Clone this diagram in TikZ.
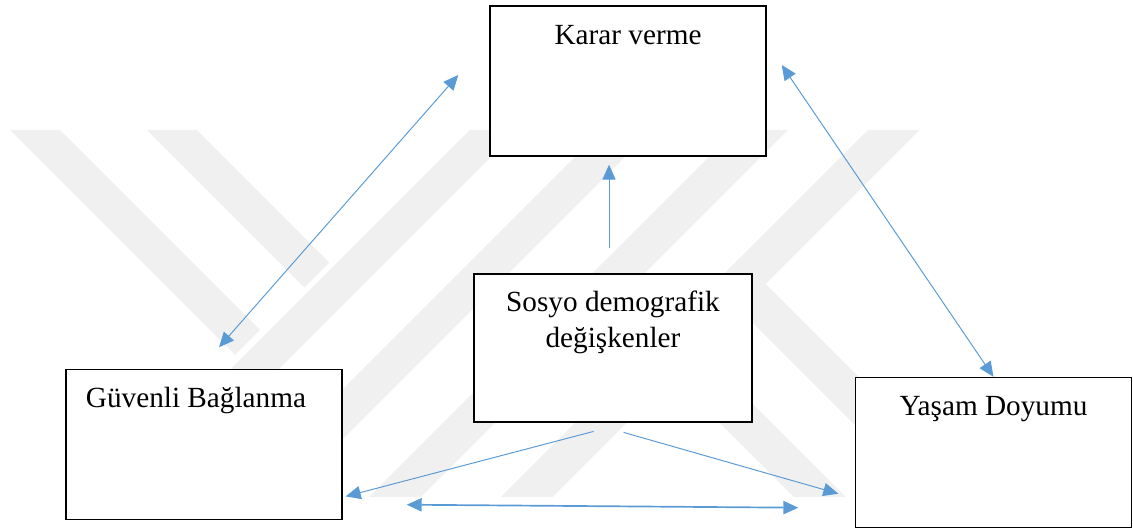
\documentclass[tikz,border=0pt]{standalone}
\usepackage{fontspec}
\setmainfont{Liberation Serif}
\usepackage{xcolor}
\usepackage{tikz}
\usetikzlibrary{shapes.geometric, arrows.meta, positioning}
\definecolor{arrowblue}{HTML}{5B9BD5}
\definecolor{markgray}{HTML}{F0F0F0}
\tikzstyle{box} = [rectangle, draw, fill=white, line width=1pt, minimum width=6.9cm, inner sep=0pt, text height=0.95cm, text depth=2.8cm, font=\fontsize{20.8pt}{25pt}\selectfont]
\tikzstyle{stripe} = [fill=markgray]
\tikzstyle{arrow} = [draw=arrowblue, line width=0.7pt, ->, >={Triangle[length=0.375cm, width=0.33cm]}]
\tikzstyle{biarrow} = [arrow, <->]

\begin{document}
\begin{tikzpicture}[node distance = 1.5cm]
\useasboundingbox (0,0) rectangle (28.325,-13.25);
% faint watermark behind the boxes
\begin{scope}[x=0.025cm, y=-0.025cm]
\fill [stripe] (470,130) -- (518,130) -- (151,497) -- (103,497) -- cycle;
\fill [stripe] (602,130) -- (652,130) -- (285,497) -- (235,497) -- cycle;
\fill [stripe] (736,130) -- (788,130) -- (421,497) -- (369,497) -- cycle;
\fill [stripe] (868,130) -- (920,130) -- (553,497) -- (501,497) -- cycle;
\fill [stripe] (10,130) -- (60,130) -- (260,330) -- (235,355) -- cycle;
\fill [stripe] (147,130) -- (197,130) -- (329.5,262.5) -- (304.5,287.5) -- cycle;
\fill [stripe] (581.5,284.5) -- (607.5,258.5) -- (846,497) -- (794,497) -- cycle;
\fill [stripe] (714,284) -- (740,258) -- (979,497) -- (927,497) -- cycle;
\end{scope}
\node [box] at (15.7,-2.025) (karar) {Karar verme};
\node [box, align=center, minimum width=6.95cm, text height=1.825cm, text depth=1.875cm, below of=karar, xshift=-0.375cm, yshift=-5.175cm] (sosyo)
	{Sosyo demografik\\değişkenler};
\node [box, left of=sosyo, xshift=-8.725cm, yshift=-2.4125cm] (guvenli) {Güvenli Bağlanma\hspace{0.4cm}\mbox{}};
\node [box, right of=sosyo, xshift=8.0125cm, yshift=-2.6125cm] (yasam) {Yaşam Doyumu};
\draw [biarrow] ([shift={(0.375,0.5375)}]guvenli.north) -- ([shift={(-0.775,0.15)}]karar.west);
\draw [biarrow] ([shift={(0.375,0.4)}]karar.east) -- (yasam.north);
\draw [arrow] ([shift={(-0.1,0.625)}]sosyo.north) -- ([shift={(-0.475,-0.2)}]karar.south);
\draw [arrow] ([shift={(-0.485,-0.2175)}]sosyo.south) -- ([shift={(0.075,0.595)}]guvenli.south east);
\draw [arrow] ([shift={(0.265,-0.2425)}]sosyo.south) -- ([shift={(-0.4125,0.8625)}]yasam.south west);
\draw [biarrow, line width=1.2pt] ([shift={(1.6,0.3875)}]guvenli.south east) -- ([shift={(-1.4125,0.5125)}]yasam.south west);
\end{tikzpicture}
\end{document}
